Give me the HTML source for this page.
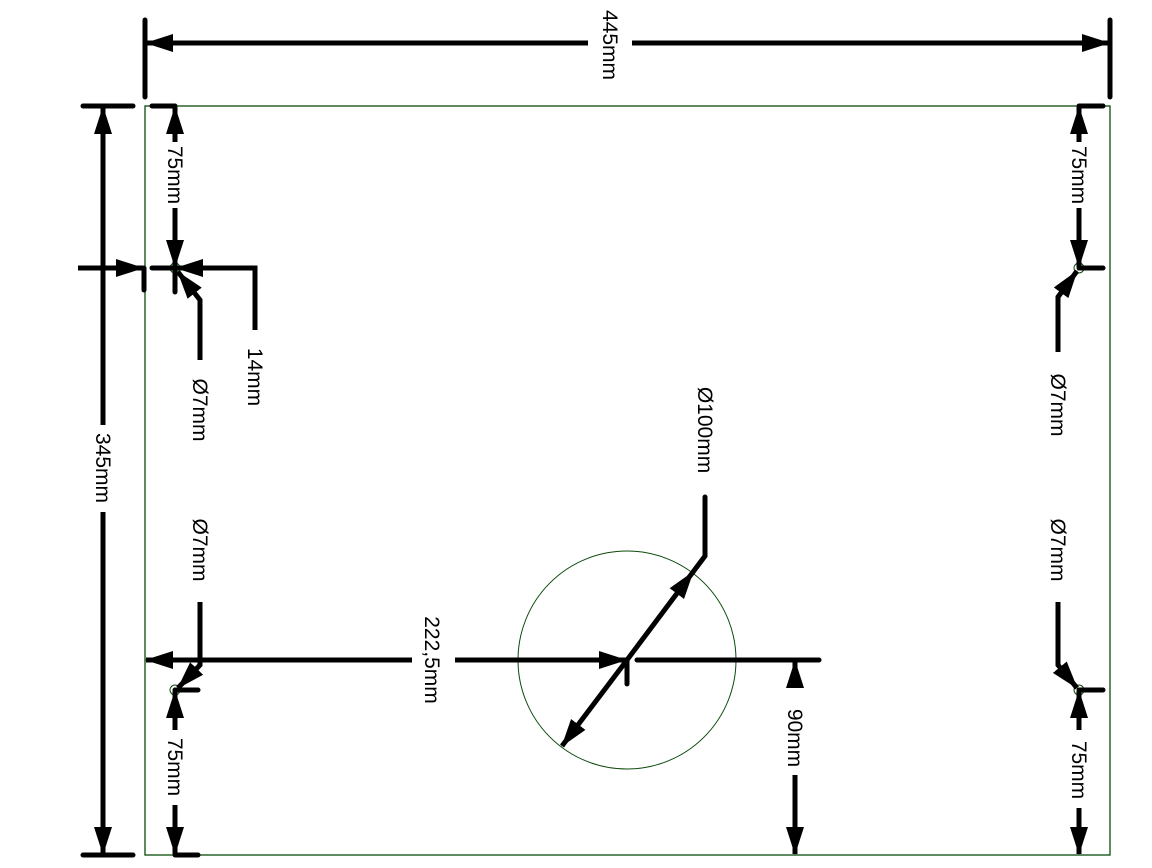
<!DOCTYPE html>
<html><head><meta charset="utf-8"><style>
html,body{margin:0;padding:0;background:#fff;}
svg{display:block}
text{font-family:"Liberation Sans",sans-serif;font-size:21px;fill:#000;}
</style></head><body>
<svg width="1152" height="868" viewBox="0 0 1152 868" xmlns="http://www.w3.org/2000/svg">
<defs>
<marker id="a" markerUnits="userSpaceOnUse" markerWidth="28" markerHeight="20" viewBox="0 0 28 20" refX="27" refY="10" orient="auto-start-reverse">
<path d="M0,1 L28,10 L0,19 z" fill="#000"/>
</marker>
</defs>
<rect x="145" y="106" width="965" height="749" fill="none" stroke="#0b4a0b" stroke-width="1.3"/>
<circle cx="627" cy="660" r="109" fill="none" stroke="#0b4a0b" stroke-width="1"/>
<circle cx="175" cy="268" r="5" fill="none" stroke="#0b4a0b" stroke-width="1"/>
<circle cx="1079" cy="268" r="5" fill="none" stroke="#0b4a0b" stroke-width="1"/>
<circle cx="175" cy="690" r="5" fill="none" stroke="#0b4a0b" stroke-width="1"/>
<circle cx="1079" cy="690" r="5" fill="none" stroke="#0b4a0b" stroke-width="1"/>
<g stroke="#000" stroke-width="5" fill="none" stroke-linecap="round">
<line x1="145" y1="20" x2="145" y2="97"/>
<line x1="1110" y1="20" x2="1110" y2="97"/>
<line x1="588" y1="43" x2="146" y2="43" marker-end="url(#a)" stroke-linecap="butt"/>
<line x1="632" y1="43" x2="1109" y2="43" marker-end="url(#a)" stroke-linecap="butt"/>
<line x1="83" y1="106" x2="133" y2="106"/>
<line x1="83" y1="855" x2="133" y2="855"/>
<line x1="103" y1="425" x2="103" y2="107" marker-end="url(#a)" stroke-linecap="butt"/>
<line x1="103" y1="512" x2="103" y2="854" marker-end="url(#a)" stroke-linecap="butt"/>
<line x1="152" y1="106" x2="175" y2="106"/>
<line x1="175" y1="142" x2="175" y2="107" marker-end="url(#a)" stroke-linecap="butt"/>
<line x1="175" y1="208" x2="175" y2="267" marker-end="url(#a)" stroke-linecap="butt"/>
<line x1="175" y1="268" x2="175" y2="292"/>
<line x1="78" y1="268" x2="143" y2="268" marker-end="url(#a)" stroke-linecap="butt"/>
<line x1="144" y1="268" x2="144" y2="290"/>
<line x1="152" y1="268" x2="175" y2="268"/>
<polyline points="255,330 255,268 176,268" marker-end="url(#a)" stroke-linecap="butt"/>
<polyline points="200,360 200,300 178,272" marker-end="url(#a)" stroke-linecap="butt"/>
<line x1="1079" y1="106" x2="1103" y2="106"/>
<line x1="1079" y1="142" x2="1079" y2="107" marker-end="url(#a)" stroke-linecap="butt"/>
<line x1="1079" y1="208" x2="1079" y2="267" marker-end="url(#a)" stroke-linecap="butt"/>
<line x1="1079" y1="268" x2="1103" y2="268"/>
<polyline points="1058,352 1058,297 1077,271" marker-end="url(#a)" stroke-linecap="butt"/>
<line x1="175" y1="690" x2="198" y2="690"/>
<line x1="175" y1="855" x2="198" y2="855"/>
<line x1="175" y1="730" x2="175" y2="691" marker-end="url(#a)" stroke-linecap="butt"/>
<line x1="175" y1="805" x2="175" y2="854" marker-end="url(#a)" stroke-linecap="butt"/>
<polyline points="200,602 200,665 178,688" marker-end="url(#a)" stroke-linecap="butt"/>
<line x1="1079" y1="690" x2="1103" y2="690"/>
<line x1="1079" y1="730" x2="1079" y2="691" marker-end="url(#a)" stroke-linecap="butt"/>
<line x1="1079" y1="808" x2="1079" y2="854" marker-end="url(#a)" stroke-linecap="butt"/>
<polyline points="1058,602 1058,665 1077,688" marker-end="url(#a)" stroke-linecap="butt"/>
<line x1="412" y1="660" x2="146" y2="660" marker-end="url(#a)" stroke-linecap="butt"/>
<line x1="455" y1="660" x2="626" y2="660" marker-end="url(#a)" stroke-linecap="butt"/>
<line x1="627" y1="660" x2="627" y2="684"/>
<line x1="637" y1="660" x2="819" y2="660"/>
<line x1="795" y1="687" x2="795" y2="661" marker-end="url(#a)" stroke-linecap="butt"/>
<line x1="795" y1="775" x2="795" y2="854" marker-end="url(#a)" stroke-linecap="butt"/>
<line x1="627" y1="660" x2="562" y2="746" marker-end="url(#a)" stroke-linecap="butt"/>
<line x1="627" y1="660" x2="693" y2="572" marker-end="url(#a)" stroke-linecap="butt"/>
<polyline points="693,572 705,556 705,497"/>
</g>
<g>
<text transform="translate(610,45) rotate(90)" text-anchor="middle" dy="7">445mm</text>
<text transform="translate(103,468) rotate(90)" text-anchor="middle" dy="7">345mm</text>
<text transform="translate(175,175) rotate(90)" text-anchor="middle" dy="7">75mm</text>
<text transform="translate(255,377) rotate(90)" text-anchor="middle" dy="7">14mm</text>
<text transform="translate(200,410) rotate(90)" text-anchor="middle" dy="7">Ø7mm</text>
<text transform="translate(1079,175) rotate(90)" text-anchor="middle" dy="7">75mm</text>
<text transform="translate(1058,405) rotate(90)" text-anchor="middle" dy="7">Ø7mm</text>
<text transform="translate(200,550) rotate(90)" text-anchor="middle" dy="7">Ø7mm</text>
<text transform="translate(1058,550) rotate(90)" text-anchor="middle" dy="7">Ø7mm</text>
<text transform="translate(175,767) rotate(90)" text-anchor="middle" dy="7">75mm</text>
<text transform="translate(1079,770) rotate(90)" text-anchor="middle" dy="7">75mm</text>
<text transform="translate(432,660) rotate(90)" text-anchor="middle" dy="7">222,5mm</text>
<text transform="translate(795,738) rotate(90)" text-anchor="middle" dy="7">90mm</text>
<text transform="translate(705,430) rotate(90)" text-anchor="middle" dy="7">Ø100mm</text>
</g>
</svg>
</body></html>
